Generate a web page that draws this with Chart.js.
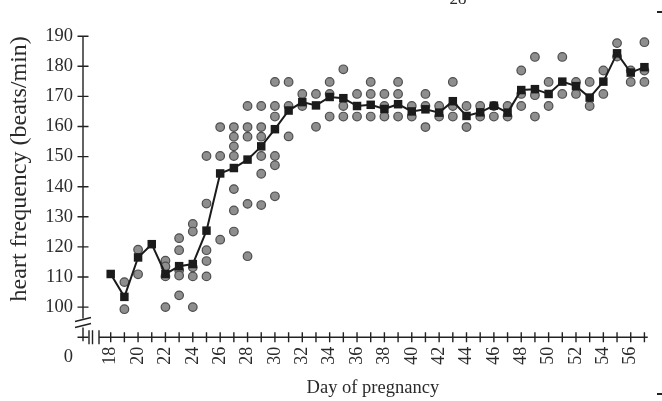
<!DOCTYPE html>
<html>
<head>
<meta charset="utf-8">
<script src="https://cdn.jsdelivr.net/npm/chart.js@4.4.1/dist/chart.umd.min.js"></script>
<style>
  html, body { margin: 0; padding: 0; background: #fff; }
  #wrap { width: 662px; height: 401px; position: relative; }
</style>
</head>
<body>
<div id="wrap"><canvas id="chart"></canvas></div>
<script>
// mean heart rate per day of pregnancy
const days = [18, 19, 20, 21, 22, 23, 24, 25, 26, 27, 28, 29, 30, 31, 32, 33, 34, 35, 36, 37,
  38, 39, 40, 41, 42, 43, 44, 45, 46, 47, 48, 49, 50, 51, 52, 53, 54, 55, 56, 57];
const meanRate = [111, 103.4, 116.5, 120.9, 111, 113.6, 114.3, 125.4, 144.4, 146.2, 149, 153.4,
  159.1, 165.3, 168.1, 167, 169.8, 169.4, 166.8, 167.2, 165.8, 167.4, 165, 165.7, 164.6, 168.4,
  163.5, 164.7, 166.9, 164.6, 172.1, 172.4, 170.8, 174.9, 173.4, 169.6, 174.9, 184.3, 177.9, 179.7];

// individual measurements, one list per day
const individualDays = [19, 20, 22, 23, 24, 25, 26, 27, 28, 29, 30, 31, 32, 33, 34, 35, 36, 37,
  38, 39, 40, 41, 42, 43, 44, 45, 46, 47, 48, 49, 50, 51, 52, 53, 54, 55, 56, 57];
const individualRates = [
  [108.3, 99.3],
  [119.1, 110.9],
  [115.4, 113.5, 110.2, 100],
  [122.9, 118.9, 112.2, 110.5, 103.9],
  [127.6, 125.1, 113.2, 110.2, 100],
  [150.2, 134.4, 118.9, 115.3, 110.2],
  [159.8, 150.2, 122.4],
  [159.8, 156.6, 153.4, 150.2, 139.2, 132.1, 125.1],
  [166.8, 159.8, 156.6, 134.3, 116.9],
  [166.8, 159.8, 156.6, 150.2, 144.3, 133.9],
  [174.8, 166.8, 163.3, 150.2, 147.1, 136.8],
  [174.8, 166.8, 156.7],
  [170.8, 166.8],
  [170.8, 159.9],
  [174.8, 170.8, 163.3],
  [179, 166.8, 163.3],
  [170.8, 163.3],
  [174.8, 170.8, 163.3],
  [170.8, 166.8, 163.3],
  [174.8, 170.8, 163.3],
  [166.8, 163.3],
  [170.8, 166.8, 159.8],
  [166.8, 163.3],
  [174.8, 166.8, 163.3],
  [166.8, 159.8],
  [166.8, 163.3],
  [166.8, 163.3],
  [166.8, 163.3],
  [178.6, 170.8, 166.8],
  [183.1, 170.4, 163.3],
  [174.8, 166.8],
  [183.1, 170.8],
  [174.8, 170.8],
  [174.8, 166.8],
  [178.6, 170.8],
  [187.7, 183.2],
  [178.6, 174.8],
  [188, 178.6, 174.8]
];

const yTickValues = [0, 100, 110, 120, 130, 140, 150, 160, 170, 180, 190];
const xTickLabels = [18, 20, 22, 24, 26, 28, 30, 32, 34, 36, 38, 40, 42, 44, 46, 48, 50, 52, 54, 56];

// the 0 tick sits just under the axis break
const BREAK_VALUE = 90;
const INK = '#222';
const TEXT = '#2a2a2a';
const SERIF = '"Liberation Serif", "Times New Roman", serif';

const meanPoints = days.map((d, i) => ({ x: d, y: meanRate[i] }));
const individualPoints = [];
individualDays.forEach((d, i) => {
  individualRates[i].forEach(v => individualPoints.push({ x: d, y: v }));
});

// axis lines, tick marks and break symbols
const brokenAxes = {
  id: 'brokenAxes',
  afterDraw(chart) {
    const { ctx, chartArea, scales: { x, y } } = chart;
    const axisX = 83;
    const axisY = y.getPixelForValue(BREAK_VALUE);
    ctx.save();
    ctx.strokeStyle = INK;
    ctx.lineWidth = 1.4;

    // y axis, interrupted at the break
    const breakTop = y.getPixelForValue(96.2);
    ctx.beginPath();
    ctx.moveTo(axisX, y.getPixelForValue(190));
    ctx.lineTo(axisX, breakTop);
    ctx.moveTo(axisX, breakTop + 9);
    ctx.lineTo(axisX, axisY + 4);
    ctx.stroke();

    // break marks on y axis
    ctx.beginPath();
    ctx.moveTo(axisX - 8, breakTop + 3);
    ctx.lineTo(axisX + 8, breakTop - 1);
    ctx.moveTo(axisX - 8, breakTop + 9);
    ctx.lineTo(axisX + 8, breakTop + 5);
    ctx.stroke();

    // y ticks
    ctx.beginPath();
    yTickValues.forEach(v => {
      const py = y.getPixelForValue(v === 0 ? BREAK_VALUE : v);
      ctx.moveTo(axisX - 5.5, py);
      ctx.lineTo(axisX + 5.5, py);
    });
    ctx.stroke();

    // break marks at the start of x axis
    ctx.beginPath();
    ctx.moveTo(axisX + 6, axisY - 7);
    ctx.lineTo(axisX + 6, axisY + 7);
    ctx.moveTo(axisX + 9.5, axisY - 7);
    ctx.lineTo(axisX + 9.5, axisY + 7);
    ctx.stroke();

    // x axis with a tick on every day
    ctx.beginPath();
    ctx.moveTo(chartArea.left, axisY);
    ctx.lineTo(chartArea.right + 1, axisY);
    ctx.moveTo(chartArea.left, axisY - 7);
    ctx.lineTo(chartArea.left, axisY + 7);
    for (let d = Math.ceil(x.min); d <= x.max; d++) {
      const px = x.getPixelForValue(d);
      ctx.moveTo(px, axisY - 5);
      ctx.lineTo(px, axisY + 5);
    }
    ctx.stroke();

    // stray marks along the right edge of the scan
    ctx.lineWidth = 2;
    ctx.beginPath();
    ctx.moveTo(657, 12);
    ctx.lineTo(662, 12);
    ctx.moveTo(657, 394);
    ctx.lineTo(662, 394);
    ctx.stroke();

    // cut-off page number at the top
    ctx.fillStyle = TEXT;
    ctx.font = '17px ' + SERIF;
    ctx.textAlign = 'center';
    ctx.textBaseline = 'alphabetic';
    ctx.fillText('28', 458, 4);
    ctx.restore();
  }
};

new Chart(document.getElementById('chart'), {
  type: 'scatter',
  data: {
    datasets: [
      {
        label: 'mean',
        data: meanPoints,
        showLine: true,
        borderColor: '#1b1b1b',
        borderWidth: 2,
        pointStyle: 'rect',
        pointRadius: 6,
        pointBackgroundColor: '#1b1b1b',
        pointBorderColor: '#1b1b1b',
        pointBorderWidth: 0,
        clip: false,
        order: 0
      },
      {
        label: 'individual',
        data: individualPoints,
        pointStyle: 'circle',
        pointRadius: 4.3,
        pointBackgroundColor: '#8e8e8e',
        pointBorderColor: '#4e4e4e',
        pointBorderWidth: 1.2,
        clip: false,
        order: 1
      }
    ]
  },
  options: {
    responsive: true,
    maintainAspectRatio: false,
    animation: false,
    layout: { padding: { top: 15, right: 1, left: 0, bottom: 0 } },
    plugins: {
      legend: { display: false },
      tooltip: { enabled: false }
    },
    scales: {
      x: {
        type: 'linear',
        min: 17.145,
        max: 57.17,
        afterBuildTicks: s => { s.ticks = xTickLabels.map(v => ({ value: v })); },
        afterFit: s => { s.height = 63.8; },
        grid: { display: false, drawTicks: false },
        border: { display: false },
        ticks: {
          autoSkip: false,
          minRotation: 90,
          maxRotation: 90,
          padding: 9.5,
          color: TEXT,
          font: { family: SERIF, size: 18 }
        },
        title: {
          display: true,
          text: 'Day of pregnancy',
          color: TEXT,
          font: { family: SERIF, size: 18.5 },
          padding: { top: 0, bottom: 2 }
        }
      },
      y: {
        type: 'linear',
        min: BREAK_VALUE,
        max: 190,
        afterBuildTicks: s => {
          s.ticks = yTickValues.map(v => ({ value: v === 0 ? BREAK_VALUE : v }));
        },
        afterFit: s => { s.width = 99; },
        grid: { display: false, drawTicks: false },
        border: { display: false },
        ticks: {
          autoSkip: false,
          padding: 26,
          color: TEXT,
          font: { family: SERIF, size: 18.5, lineHeight: 1.1 },
          callback: v => (v === BREAK_VALUE ? ['', '', '0'] : String(v))
        },
        title: {
          display: true,
          text: 'heart frequency (beats/min)',
          align: 'end',
          color: TEXT,
          font: { family: SERIF, size: 24 },
          padding: { top: 5, bottom: 0 }
        }
      }
    }
  },
  plugins: [brokenAxes]
});
</script>
</body>
</html>
